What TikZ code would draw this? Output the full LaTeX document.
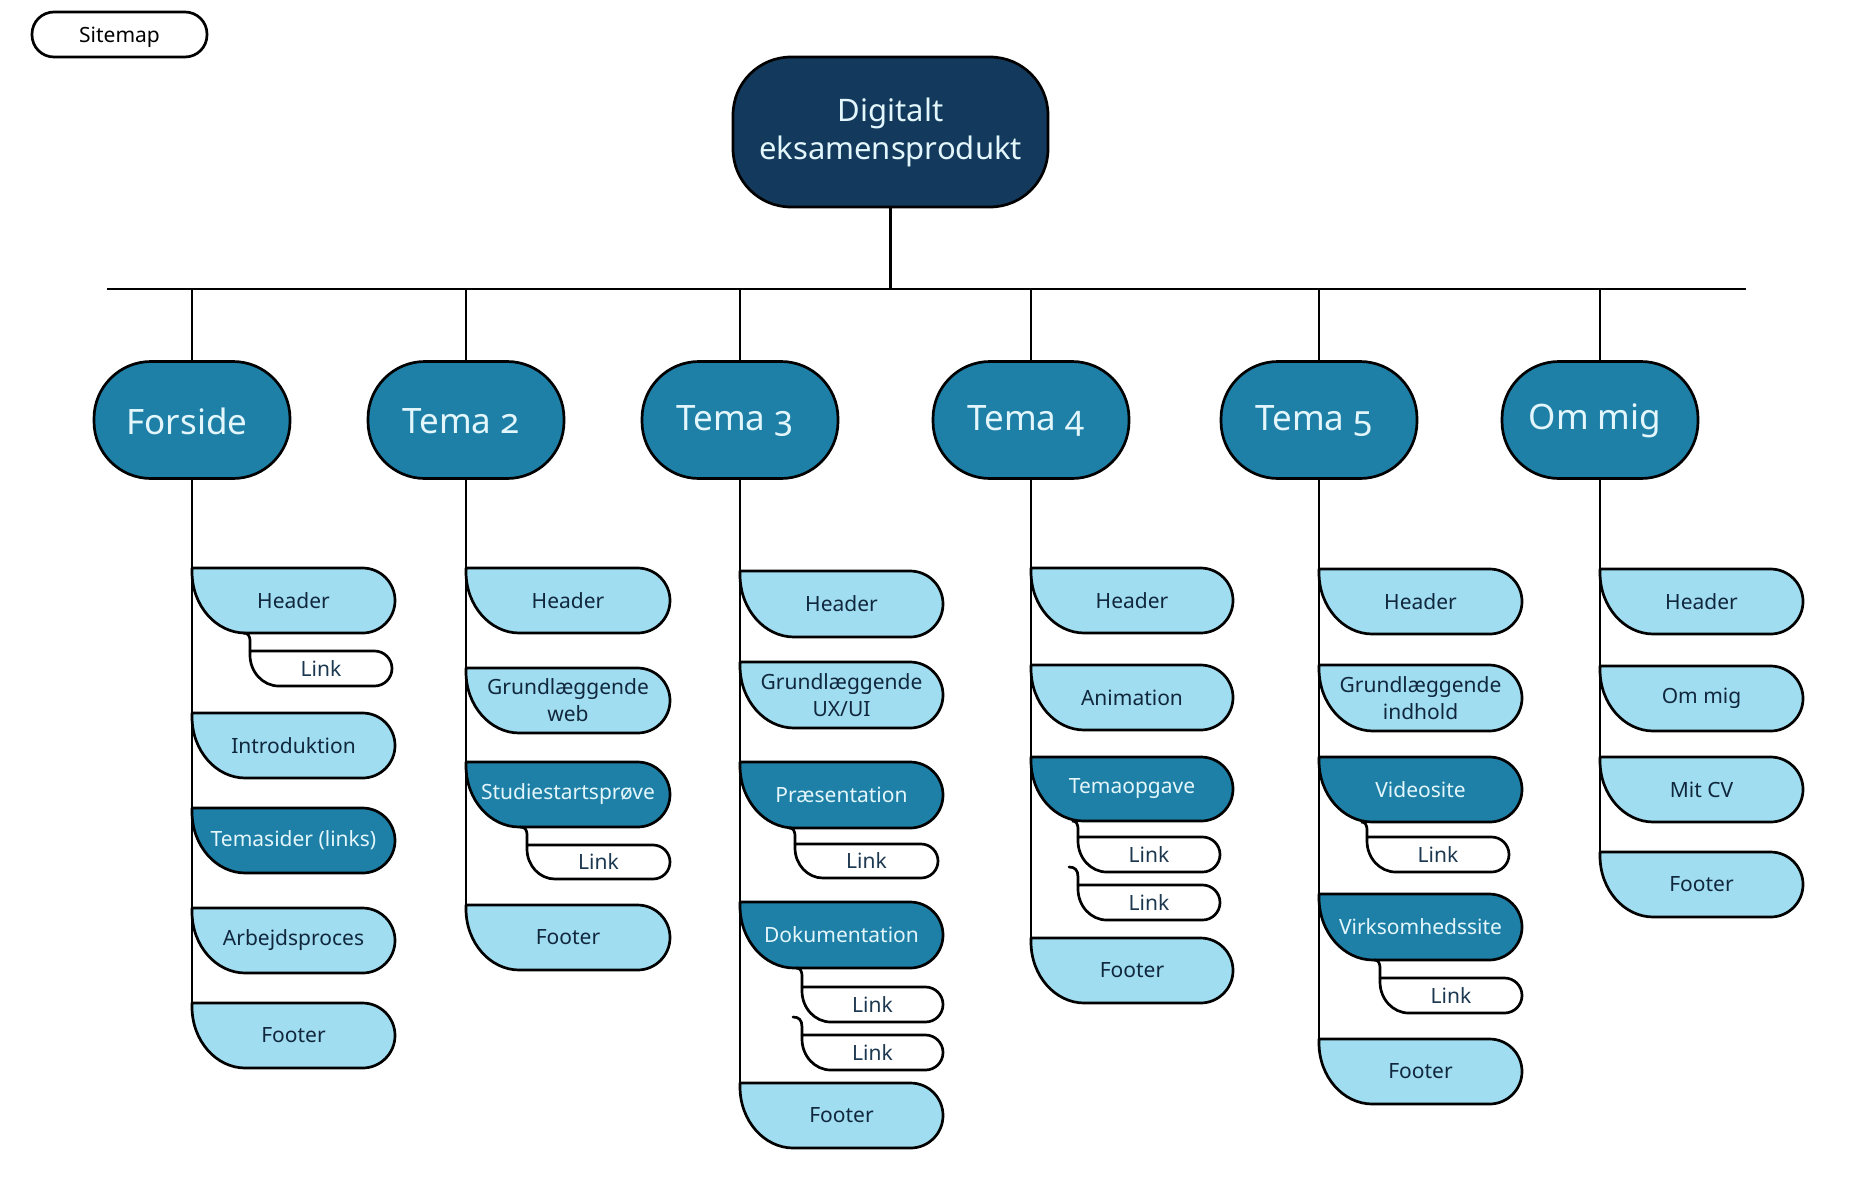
\documentclass[tikz,border=0pt]{standalone}
\usepackage{fontspec}
\setmainfont{Noto Sans}[Numbers=OldStyle]
\definecolor{navy}{HTML}{133A5C}
\definecolor{midblue}{HTML}{1F80A7}
\definecolor{lightblue}{HTML}{A0DDF0}
\definecolor{inktext}{HTML}{10273D}
\definecolor{linktext}{HTML}{1C3850}
\definecolor{paletext}{HTML}{E2F6FB}
\tikzset{
  outline/.style={draw=black, line width=2.7pt, line join=round},
  lightleaf/.style={outline, fill=lightblue},
  darkleaf/.style={outline, fill=midblue},
  linkleaf/.style={outline, fill=white},
  conn/.style={draw=black, line width=2.7pt},
  inktxt/.style={text=inktext, font=\fontsize{21}{27}\selectfont, align=center, inner sep=0pt},
  paletxt/.style={text=paletext, font=\fontsize{21}{27}\selectfont, align=center, inner sep=0pt},
  linktxt/.style={text=linktext, font=\fontsize{21}{27}\selectfont, align=center, inner sep=0pt},
  topic/.style={outline, fill=midblue, minimum width=196pt, minimum height=117pt,
    rounded corners=57pt, inner sep=0pt},
  topictxt/.style={text=paletext, font=\fontsize{35}{40}\selectfont, inner sep=0pt},
  rootbox/.style={outline, fill=navy, text=paletext, minimum width=315pt, minimum height=150pt,
    rounded corners=58pt, font=\fontsize{31}{38}\selectfont, align=center, inner sep=0pt},
  titlebox/.style={outline, fill=white, text=black, minimum width=175pt, minimum height=45pt,
    rounded corners=22pt, font=\fontsize{21}{24}\selectfont, inner sep=0pt, text depth=-2pt},
}
% #1 name #2 left #3 top #4 right #5 bottom #6 shape style #7 text style #8 text
\newcommand{\leafnode}[8]{%
  \pgfmathsetmacro{\LFh}{#5-#3}%
  \pgfmathsetmacro{\LFr}{\LFh/2}%
  \pgfmathsetmacro{\LFc}{#3+4}%
  \pgfmathsetmacro{\LFbx}{#2+0.82*\LFh}%
  \pgfmathsetmacro{\LFrx}{#4-\LFr}%
  \pgfmathsetmacro{\LFcy}{\LFc+0.55*(#5-\LFc)}%
  \pgfmathsetmacro{\LFcx}{#2+0.45*0.82*\LFh}%
  \pgfmathsetmacro{\LFk}{0.552*\LFr}%
  \pgfmathsetmacro{\LFmy}{#3+\LFr}%
  \draw[#6] (#2,#3) -- (#2,\LFc) .. controls (#2,\LFcy) and (\LFcx,#5) .. (\LFbx,#5)
    -- (\LFrx,#5) .. controls (\LFrx+\LFk,#5) and (#4,\LFmy+\LFk) .. (#4,\LFmy)
    .. controls (#4,\LFmy-\LFk) and (\LFrx+\LFk,#3) .. (\LFrx,#3) -- cycle;
  \coordinate (#1-tl) at (#2,#3);
  \node[#7] (#1) at ({(#2+#4)/2},{(#3+#5)/2}) {#8};
}
% #1 link name #2 x on parent bottom #3 parent bottom y #4 link left x
\newcommand{\stub}[4]{%
  \coordinate (#1-s) at (#2,#3);
  \draw[conn] (#1-s) .. controls (#4-2,#3) and (#4,#3+2) .. (#4,#3+9) -- (#1-tl);
}
% #1 link name #2 x start #3 y start #4 link left x
\newcommand{\hookline}[4]{%
  \coordinate (#1-h) at (#2,#3);
  \draw[conn, line cap=round] (#1-h) .. controls (#4-3,#3) and (#4,#3+3) .. (#4,#3+10) -- (#1-tl);
}
% #1 name #2 x #3 text
\newcommand{\topicnode}[3]{%
  \node[topic] (#1) at (#2,420) {};
  \node[topictxt] (#1-label) at (#2-5,421) {#3};
}
\begin{document}
\begin{tikzpicture}[x=1pt, y=-1pt]
\useasboundingbox (0,0) rectangle (1851,1181);

\node[titlebox] (sitemap) at (119.5,34.5) {Sitemap};
\node[rootbox] (root) at (890.5,132) {Digitalt\\eksamensprodukt};

\coordinate (busL) at (107,289);
\coordinate (busR) at (1746,289);
\draw[conn] (busL) -- (busR);
\draw[conn] (root.south) -- (root.south |- busL);

\topicnode{forside}{192}{Forside}
\topicnode{tema2}{466}{Tema 2}
\topicnode{tema3}{740}{Tema 3}
\topicnode{tema4}{1031}{Tema 4}
\topicnode{tema5}{1319}{Tema 5}
\topicnode{ommig}{1600}{Om mig}

\foreach \t in {forside,tema2,tema3,tema4,tema5,ommig}
  \draw[conn] (\t.north) -- (\t.north |- busL);

% verticals down each column
\draw[conn] (forside.south) -- (192,1003);
\draw[conn] (tema2.south) -- (466,905);
\draw[conn] (tema3.south) -- (740,1083);
\draw[conn] (tema4.south) -- (1031,938);
\draw[conn] (tema5.south) -- (1319,1039);
\draw[conn] (ommig.south) -- (1600,852);

% Forside
\leafnode{f1}{192}{568}{395}{633}{lightleaf}{inktxt}{Header}
\leafnode{f1l}{250}{651}{392}{686}{linkleaf}{linktxt}{Link}
\stub{f1l}{243}{633}{250}
\leafnode{f2}{192}{713}{395}{778}{lightleaf}{inktxt}{Introduktion}
\leafnode{f3}{192}{808}{395}{873}{darkleaf}{paletxt}{Temasider (links)}
\leafnode{f4}{192}{908}{395}{973}{lightleaf}{inktxt}{Arbejdsproces}
\leafnode{f5}{192}{1003}{395}{1068}{lightleaf}{inktxt}{Footer}

% Tema 2
\leafnode{t2a}{466}{568}{670}{633}{lightleaf}{inktxt}{Header}
\leafnode{t2b}{466}{668}{670}{733}{lightleaf}{inktxt}{Grundlæggende\\web}
\leafnode{t2c}{466}{762}{670}{827}{darkleaf}{paletxt}{Studiestartsprøve}
\leafnode{t2cl}{527}{845}{670}{879}{linkleaf}{linktxt}{Link}
\stub{t2cl}{520}{827}{527}
\leafnode{t2d}{466}{905}{670}{970}{lightleaf}{inktxt}{Footer}

% Tema 3
\leafnode{t3a}{740}{571}{943}{637}{lightleaf}{inktxt}{Header}
\leafnode{t3b}{740}{662}{943}{728}{lightleaf}{inktxt}{Grundlæggende\\UX/UI}
\leafnode{t3c}{740}{762}{943}{828}{darkleaf}{paletxt}{Præsentation}
\leafnode{t3cl}{795}{844}{938}{878}{linkleaf}{linktxt}{Link}
\stub{t3cl}{789}{828}{795}
\leafnode{t3d}{740}{902}{943}{968}{darkleaf}{paletxt}{Dokumentation}
\leafnode{t3dl}{802}{987}{943}{1022}{linkleaf}{linktxt}{Link}
\stub{t3dl}{796}{968}{802}
\leafnode{t3dm}{802}{1035}{943}{1070}{linkleaf}{linktxt}{Link}
\hookline{t3dm}{793}{1017}{802}
\leafnode{t3e}{740}{1083}{943}{1148}{lightleaf}{inktxt}{Footer}

% Tema 4
\leafnode{t4a}{1031}{568}{1233}{633}{lightleaf}{inktxt}{Header}
\leafnode{t4b}{1031}{665}{1233}{730}{lightleaf}{inktxt}{Animation}
\leafnode{t4c}{1031}{757}{1233}{821}{darkleaf}{paletxt}{Temaopgave}
\leafnode{t4cl}{1078}{837}{1220}{872}{linkleaf}{linktxt}{Link}
\stub{t4cl}{1072}{821}{1078}
\leafnode{t4cm}{1078}{885}{1220}{920}{linkleaf}{linktxt}{Link}
\hookline{t4cm}{1069}{867}{1078}
\leafnode{t4d}{1031}{938}{1233}{1003}{lightleaf}{inktxt}{Footer}

% Tema 5
\leafnode{t5a}{1319}{569}{1522}{634}{lightleaf}{inktxt}{Header}
\leafnode{t5b}{1319}{665}{1522}{731}{lightleaf}{inktxt}{Grundlæggende\\indhold}
\leafnode{t5c}{1319}{757}{1522}{822}{darkleaf}{paletxt}{Videosite}
\leafnode{t5cl}{1367}{837}{1509}{872}{linkleaf}{linktxt}{Link}
\stub{t5cl}{1361}{822}{1367}
\leafnode{t5d}{1319}{894}{1522}{960}{darkleaf}{paletxt}{Virksomhedssite}
\leafnode{t5dl}{1380}{978}{1522}{1013}{linkleaf}{linktxt}{Link}
\stub{t5dl}{1374}{960}{1380}
\leafnode{t5e}{1319}{1039}{1522}{1104}{lightleaf}{inktxt}{Footer}

% Om mig
\leafnode{o1}{1600}{569}{1803}{634}{lightleaf}{inktxt}{Header}
\leafnode{o2}{1600}{666}{1803}{731}{lightleaf}{inktxt}{Om mig}
\leafnode{o3}{1600}{757}{1803}{822}{lightleaf}{inktxt}{Mit CV}
\leafnode{o4}{1600}{852}{1803}{917}{lightleaf}{inktxt}{Footer}
\end{tikzpicture}
\end{document}
